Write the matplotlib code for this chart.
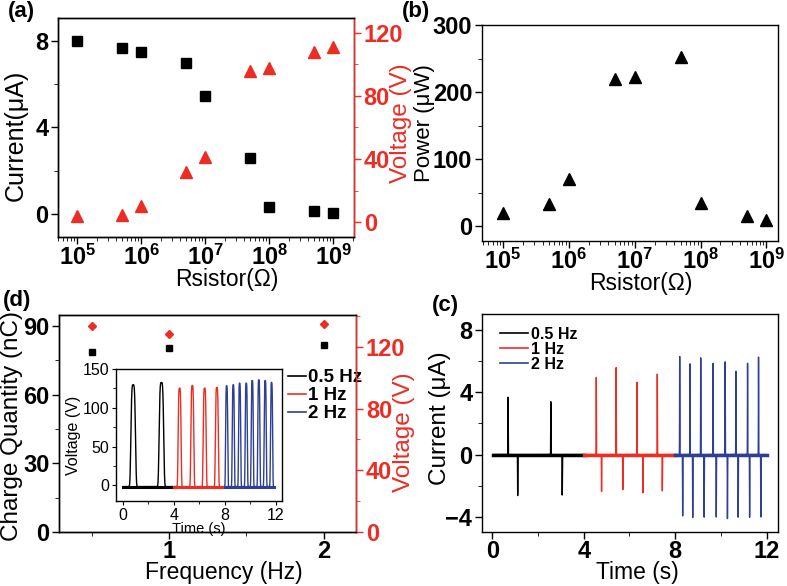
import numpy as np
import matplotlib
matplotlib.use('Agg')
import matplotlib.pyplot as plt
from matplotlib.ticker import MultipleLocator, FixedLocator, LogLocator, NullFormatter, FuncFormatter

plt.rcParams['font.family'] = ['Liberation Sans', 'DejaVu Sans']
plt.rcParams['mathtext.fontset'] = 'custom'
plt.rcParams['mathtext.rm'] = 'Liberation Sans'
plt.rcParams['mathtext.bf'] = 'Liberation Sans:bold'
plt.rcParams['axes.linewidth'] = 1.0

RED = '#ec2d24'
BLUE = '#2e3f95'

# (a), (b): load resistance sweep
resistor = [1e5, 5e5, 1e6, 5e6, 1e7, 5e7, 1e8, 5e8, 1e9]
current_a = [8.0, 7.7, 7.49, 6.98, 5.47, 2.57, 0.31, 0.11, 0.05]
voltage_a = [3.6, 4.7, 10, 32, 41, 95.6, 97.7, 107.8, 111.4]
power_b = [20, 33, 71, 219, 222, 252, 35, 15, 10]

# (d): charge / voltage vs frequency
freq_d = [0.5, 1, 2]
charge_d = [78.6, 80.3, 81.7]
voltage_d = [133.6, 128.4, 134.7]

# (d) inset: voltage peaks (time s, height V) per frequency
inset_seg = {'0.5 Hz': (0.0, 4.0), '1 Hz': (4.0, 8.0), '2 Hz': (8.0, 11.9)}
inset_t = {'0.5 Hz': [0.8, 3.02],
           '1 Hz': [4.45, 5.45, 6.42, 7.38],
           '2 Hz': [8.15, 8.67, 9.17, 9.69, 10.16, 10.68, 11.18, 11.68]}
inset_h = {'0.5 Hz': [129.7, 132.6],
           '1 Hz': [125.4, 128.8, 125.4, 126.3],
           '2 Hz': [128.4, 129.7, 131.8, 131.8, 135.2, 136.1, 135.2, 132.7]}
inset_w = {'0.5 Hz': 0.2, '1 Hz': 0.13, '2 Hz': 0.095}

# (c): current spikes
cur_seg = {'0.5 Hz': (0.05, 4.0), '1 Hz': (4.0, 8.0), '2 Hz': (8.0, 12.0)}
pos_t = {'0.5 Hz': [0.69, 2.56],
         '1 Hz': [4.55, 5.42, 6.33, 7.22],
         '2 Hz': [8.20, 8.65, 9.12, 9.66, 10.19, 10.66, 11.17, 11.65]}
pos_h = {'0.5 Hz': [3.67, 3.38],
         '1 Hz': [4.94, 5.58, 4.64, 5.15],
         '2 Hz': [6.28, 5.81, 6.20, 5.85, 5.96, 5.34, 5.85, 6.24]}
neg_t = {'0.5 Hz': [1.11, 3.06],
         '1 Hz': [4.78, 5.71, 6.59, 7.44],
         '2 Hz': [8.33, 8.77, 9.27, 9.80, 10.29, 10.76, 11.26, 11.75]}
neg_h = {'0.5 Hz': [-2.63, -2.6],
         '1 Hz': [-2.37, -2.26, -2.46, -2.33],
         '2 Hz': [-3.93, -4.04, -4.02, -4.02, -4.12, -4.02, -4.02, -4.0]}

colors = {'0.5 Hz': 'black', '1 Hz': RED, '2 Hz': BLUE}

TICK = 17
XLAB = 16.5
YLAB = 17.5


def bold_ticks(ax, size=TICK):
    for lab in ax.get_xticklabels() + ax.get_yticklabels():
        lab.set_fontweight('bold')
        lab.set_fontsize(size)


def log_fmt(x, pos):
    return r'$\mathbf{10^{%d}}$' % int(round(np.log10(x)))


def place_label(axis, x, y):
    # put the axis label centre at (x, y) in axes fraction
    axis.set_label_coords(x, y)
    axis.label.set_va('center')
    axis.label.set_ha('center')


def style_ticks(ax):
    ax.tick_params(direction='out', length=5, width=1)
    ax.tick_params(axis='y', pad=2)
    ax.tick_params(axis='x', pad=0.5)
    ax.tick_params(which='minor', direction='out', length=3)


fig = plt.figure(figsize=(7.87, 5.86), dpi=100)

# ---------------- (a)
ax = fig.add_axes([0.0737, 0.5956, 0.376, 0.3737])
ax.plot(resistor, current_a, 's', color='black', ms=7)
ax.set_xscale('log')
ax.set_xlim(5e4, 2.1e9)
ax.set_ylim(-1.07, 9.07)
ax.yaxis.set_major_locator(MultipleLocator(4))
ax.yaxis.set_minor_locator(MultipleLocator(2))
ax.xaxis.set_major_locator(LogLocator(base=10))
ax.xaxis.set_minor_locator(LogLocator(base=10, subs=np.arange(2, 10)))
ax.xaxis.set_minor_formatter(NullFormatter())
ax.xaxis.set_major_formatter(FuncFormatter(log_fmt))
style_ticks(ax)
ax.set_ylabel('Current(μA)', fontsize=18)
ax.set_xlabel('Rsistor(Ω)', fontsize=XLAB)
place_label(ax.yaxis, -0.142, 0.466)
place_label(ax.xaxis, 0.571, -0.195)
bold_ticks(ax)
ax2 = ax.twinx()
ax2.plot(resistor, voltage_a, '^', color=RED, ms=8)
ax2.set_ylim(-9.5, 129.5)
ax2.yaxis.set_major_locator(MultipleLocator(40))
ax2.yaxis.set_minor_locator(MultipleLocator(20))
ax2.spines['right'].set_color(RED)
ax2.tick_params(axis='y', colors=RED, direction='out', length=5, width=1, pad=2)
ax2.tick_params(axis='y', which='minor', colors=RED, direction='out', length=3)
ax2.set_ylabel('Voltage (V)', color=RED, fontsize=YLAB)
place_label(ax2.yaxis, 1.159, 0.52)
bold_ticks(ax2)

# ---------------- (b)
ax = fig.add_axes([0.6125, 0.5887, 0.376, 0.3686])
ax.plot(resistor, power_b, '^', color='black', ms=8)
ax.set_xscale('log')
ax.set_xlim(4.8e4, 1.5e9)
ax.set_ylim(-22, 300)
ax.yaxis.set_major_locator(MultipleLocator(100))
ax.yaxis.set_minor_locator(MultipleLocator(50))
ax.xaxis.set_major_locator(LogLocator(base=10))
ax.xaxis.set_minor_locator(LogLocator(base=10, subs=np.arange(2, 10)))
ax.xaxis.set_minor_formatter(NullFormatter())
ax.xaxis.set_major_formatter(FuncFormatter(log_fmt))
style_ticks(ax)
ax.set_ylabel('Power (μW)', fontsize=16)
ax.set_xlabel('Rsistor(Ω)', fontsize=XLAB)
place_label(ax.yaxis, -0.195, 0.546)
place_label(ax.xaxis, 0.537, -0.195)
bold_ticks(ax)

# ---------------- (d)
ax = fig.add_axes([0.075, 0.0922, 0.3774, 0.3703])
ax.plot(freq_d, charge_d, 's', color='black', ms=4.5)
ax.set_xlim(0.29, 2.21)
ax.set_ylim(0, 94.8)
ax.xaxis.set_major_locator(FixedLocator([1, 2]))
ax.xaxis.set_minor_locator(FixedLocator([0.5, 1.5]))
ax.yaxis.set_major_locator(MultipleLocator(30))
ax.yaxis.set_minor_locator(MultipleLocator(15))
style_ticks(ax)
ax.set_ylabel('Charge Quantity (nC)', fontsize=17.5)
ax.set_xlabel('Frequency (Hz)', fontsize=XLAB)
place_label(ax.yaxis, -0.158, 0.49)
place_label(ax.xaxis, 0.556, -0.185)
bold_ticks(ax)
ax2 = ax.twinx()
ax2.plot(freq_d, voltage_d, 'D', color=RED, ms=4.5)
ax2.set_ylim(0, 140.7)
ax2.yaxis.set_major_locator(MultipleLocator(40))
ax2.yaxis.set_minor_locator(MultipleLocator(20))
ax2.spines['right'].set_color(RED)
ax2.tick_params(axis='y', colors=RED, direction='out', length=5, width=1, pad=2)
ax2.tick_params(axis='y', which='minor', colors=RED, direction='out', length=3)
ax2.set_ylabel('Voltage (V)', color=RED, fontsize=YLAB)
place_label(ax2.yaxis, 1.16, 0.46)
bold_ticks(ax2)

# inset of (d)
ins = fig.add_axes([0.1474, 0.1451, 0.2109, 0.2253])
handles = []
for key in ['0.5 Hz', '1 Hz', '2 Hz']:
    t0, t1 = inset_seg[key]
    t = np.linspace(t0, t1, 1500)
    v = np.full_like(t, -1.5)
    for tp, hp in zip(inset_t[key], inset_h[key]):
        v += (hp + 1.5) * np.exp(-((t - tp) / inset_w[key]) ** 4)
    ins.plot(t, v, color=colors[key], lw=1.0)
    ins.plot([t0, t1], [-1.5, -1.5], color=colors[key], lw=2.2)
    handles.append(plt.Line2D([], [], color=colors[key], lw=1.2, label=key))
ins.set_xlim(-0.55, 12.5)
ins.set_ylim(-20, 150)
ins.xaxis.set_major_locator(MultipleLocator(4))
ins.xaxis.set_minor_locator(MultipleLocator(2))
ins.yaxis.set_major_locator(MultipleLocator(50))
ins.yaxis.set_minor_locator(MultipleLocator(25))
ins.tick_params(direction='out', length=3, width=0.8, labelsize=11.5, pad=2)
ins.tick_params(which='minor', direction='out', length=2)
ins.set_xlabel('Time (s)', fontsize=10.5, labelpad=-1)
ins.set_ylabel('Voltage (V)', fontsize=11.5, labelpad=1)
ax.legend(handles=handles, loc='upper left', bbox_to_anchor=(0.745, 0.785),
          frameon=False, handlelength=0.95, handletextpad=0.15, labelspacing=0.05,
          borderaxespad=0, prop={'weight': 'bold', 'size': 13.5})

# ---------------- (c)
ax = fig.add_axes([0.6125, 0.0922, 0.376, 0.372])
handles = []
for key in ['0.5 Hz', '1 Hz', '2 Hz']:
    t0, t1 = cur_seg[key]
    t = np.linspace(t0, t1, 4000)
    c = np.zeros_like(t)
    for tp, hp in zip(pos_t[key], pos_h[key]):
        c += hp * np.exp(-((t - tp) / 0.007) ** 2)
    for tp, hp in zip(neg_t[key], neg_h[key]):
        c += hp * np.exp(-((t - tp) / 0.007) ** 2)
    ax.plot(t, c, color=colors[key], lw=1.0)
    ax.plot([t0, t1], [0, 0], color=colors[key], lw=2.5)
    handles.append(plt.Line2D([], [], color=colors[key], lw=1.2, label=key))
ax.set_xlim(-0.45, 12.5)
ax.set_ylim(-4.96, 9.0)
ax.xaxis.set_major_locator(MultipleLocator(4))
ax.xaxis.set_minor_locator(MultipleLocator(2))
ax.yaxis.set_major_locator(MultipleLocator(4))
ax.yaxis.set_minor_locator(MultipleLocator(2))
style_ticks(ax)
ax.set_ylabel('Current (μA)', fontsize=YLAB)
ax.set_xlabel('Time (s)', fontsize=XLAB)
place_label(ax.yaxis, -0.142, 0.523)
place_label(ax.xaxis, 0.524, -0.187)
bold_ticks(ax)
ax.legend(handles=handles, loc='upper left', bbox_to_anchor=(0.04, 0.97),
          frameon=False, handlelength=1.75, handletextpad=0.15, labelspacing=0.0,
          borderaxespad=0, prop={'weight': 'bold', 'size': 11.5})

# panel letters
for x, y, s in [(0.01, 0.981, '(a)'), (0.511, 0.981, '(b)'),
                (0.004, 0.488, '(d)'), (0.549, 0.478, '(c)')]:
    fig.text(x, y, s, fontsize=16, fontweight='bold', va='center', ha='left')

fig.savefig('out.png', dpi=100)
